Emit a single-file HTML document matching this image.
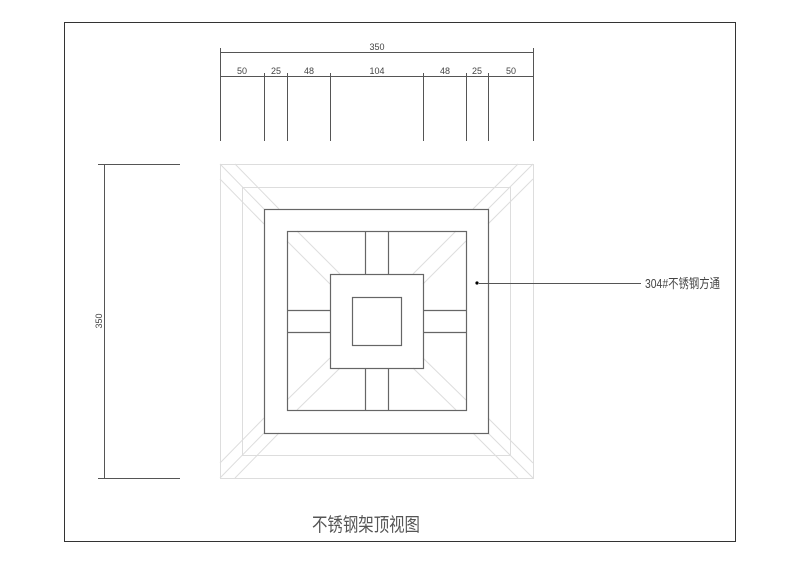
<!DOCTYPE html>
<html><head><meta charset="utf-8"><style>html,body{margin:0;padding:0;background:#fff;}svg{display:block}</style></head>
<body>
<svg width="800" height="565" viewBox="0 0 800 565" xmlns="http://www.w3.org/2000/svg">
<rect x="64.5" y="22.5" width="671" height="519" fill="none" stroke="#333" stroke-width="1"/>
<!-- dimensions -->
<g stroke="#555" stroke-width="1" fill="none">
<line x1="220" y1="52.5" x2="533" y2="52.5"/>
<line x1="220.5" y1="48" x2="220.5" y2="141"/>
<line x1="533.5" y1="48" x2="533.5" y2="141"/>
<line x1="220" y1="76.5" x2="533" y2="76.5"/>
<line x1="264.5" y1="73" x2="264.5" y2="141"/>
<line x1="287.5" y1="73" x2="287.5" y2="141"/>
<line x1="330.5" y1="73" x2="330.5" y2="141"/>
<line x1="423.5" y1="73" x2="423.5" y2="141"/>
<line x1="466.5" y1="73" x2="466.5" y2="141"/>
<line x1="488.5" y1="73" x2="488.5" y2="141"/>
<line x1="104.5" y1="164" x2="104.5" y2="478"/>
<line x1="98" y1="164.5" x2="180" y2="164.5"/>
<line x1="98" y1="478.5" x2="180" y2="478.5"/>
</g>
<g font-family="Liberation Sans, sans-serif" font-size="9" fill="#444" text-anchor="middle">
<text x="377" y="50">350</text>
<text x="242" y="74">50</text>
<text x="276" y="74">25</text>
<text x="309" y="74">48</text>
<text x="377" y="74">104</text>
<text x="445" y="74">48</text>
<text x="477" y="74">25</text>
<text x="511" y="74">50</text>
<text x="0" y="0" transform="translate(102,321) rotate(-90)">350</text>
</g>
<!-- light lines -->
<g stroke="#ddd" stroke-width="1" fill="none">
<rect x="220.5" y="164.5" width="313" height="314"/>
<rect x="242.5" y="187.5" width="268" height="268"/>
<line x1="220" y1="164" x2="264" y2="209"/>
<line x1="235" y1="164" x2="279" y2="209"/>
<line x1="220" y1="179" x2="264" y2="224"/>
<line x1="533" y1="164" x2="488" y2="209"/>
<line x1="518" y1="164" x2="473" y2="209"/>
<line x1="533" y1="179" x2="488" y2="224"/>
<line x1="220" y1="478" x2="264" y2="433"/>
<line x1="235" y1="478" x2="279" y2="433"/>
<line x1="220" y1="463" x2="264" y2="418"/>
<line x1="533" y1="478" x2="488" y2="433"/>
<line x1="518" y1="478" x2="473" y2="433"/>
<line x1="533" y1="463" x2="488" y2="418"/>
<line x1="297" y1="231" x2="340" y2="274"/>
<line x1="287" y1="241" x2="330" y2="284"/>
<line x1="456" y1="231" x2="413" y2="274"/>
<line x1="466" y1="241" x2="423" y2="284"/>
<line x1="297" y1="410" x2="340" y2="368"/>
<line x1="287" y1="400" x2="330" y2="358"/>
<line x1="456" y1="410" x2="413" y2="368"/>
<line x1="466" y1="400" x2="423" y2="358"/>
</g>
<!-- dark structure -->
<g stroke="#666" stroke-width="1.2" fill="none">
<rect x="264.5" y="209.5" width="224" height="224"/>
<rect x="287.5" y="231.5" width="179" height="179"/>
<rect x="330.5" y="274.5" width="93" height="94"/>
<rect x="352.5" y="297.5" width="49" height="48"/>
<line x1="365.5" y1="231" x2="365.5" y2="274"/>
<line x1="388.5" y1="231" x2="388.5" y2="274"/>
<line x1="365.5" y1="368" x2="365.5" y2="410"/>
<line x1="388.5" y1="368" x2="388.5" y2="410"/>
<line x1="287" y1="310.5" x2="330" y2="310.5"/>
<line x1="287" y1="332.5" x2="330" y2="332.5"/>
<line x1="423" y1="310.5" x2="466" y2="310.5"/>
<line x1="423" y1="332.5" x2="466" y2="332.5"/>
</g>
<circle cx="477" cy="283" r="1.6" fill="#000"/>
<line x1="479" y1="283.5" x2="641" y2="283.5" stroke="#555" stroke-width="1"/>
<text x="645" y="288" font-family="Liberation Sans, Noto Sans CJK SC, sans-serif" font-size="13" fill="#444" textLength="75" lengthAdjust="spacingAndGlyphs">304#不锈钢方通</text>
<text x="312" y="531" font-family="Liberation Sans, Noto Sans CJK SC, sans-serif" font-size="19" fill="#555" textLength="108" lengthAdjust="spacingAndGlyphs">不锈钢架顶视图</text>
</svg>
</body></html>
